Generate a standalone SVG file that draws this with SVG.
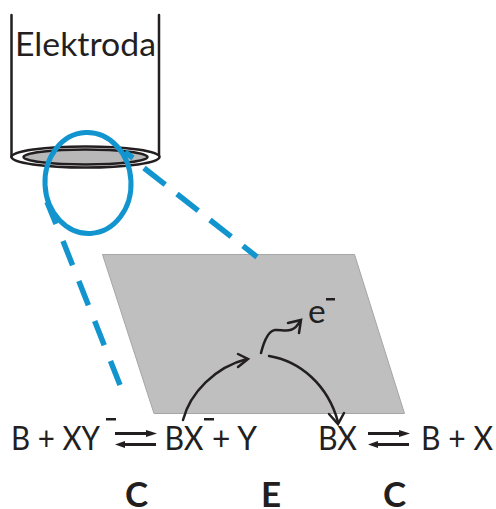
<svg xmlns="http://www.w3.org/2000/svg" width="496" height="509" viewBox="0 0 496 509">
<style>
text{font-family:Lato,"Open Sans",sans-serif;fill:#231f20}
.f{font-size:33.500px}
.b{font-size:35px;font-weight:700}
.k{fill:none;stroke:#231f20;stroke-width:2.500;stroke-linecap:round}
.h{fill:#231f20}
.m{fill:#231f20}
.d{fill:none;stroke:#1295cf;stroke-width:5.500}
</style>
<defs>
<path id="eq" d="M0 0H31V-2L42 1.500L31 5V3H0ZM41 11V14H10V16L0 12.500L10 9V11Z"/>
</defs>
<rect width="496" height="509" fill="#fff"/>
<g id="plane"><path d="M102.500 254.500H354.500L404.500 413.500H154Z" fill="#bfbfbf" stroke="#a6a6a6" stroke-width="1"/></g>
<g id="elektroda">
<path d="M11.500 15V157M159 15V157" class="k"/>
<ellipse cx="85.500" cy="157" rx="74" ry="10.500" fill="#fff" stroke="#231f20" stroke-width="2.500"/>
<ellipse cx="85.500" cy="157" rx="62" ry="7.500" fill="#b8b8b8" stroke="#231f20" stroke-width="2.500"/>
<text x="15" y="56" textLength="141" lengthAdjust="spacingAndGlyphs" style="font-size:33.500px">Elektroda</text>
</g>
<g id="lens">
<ellipse cx="88" cy="183" rx="43" ry="50.500" fill="none" stroke="#1295cf" stroke-width="5" transform="rotate(-3 88 183)"/>
</g>
<g id="connectors">
<path d="M125 152L133 158" class="d"/>
<path d="M144 168L257 257" class="d" stroke-dasharray="27 15"/>
<path d="M47 202L56 224" class="d"/>
<path d="M63 241L120 385" class="d" stroke-dasharray="26 17"/>
<path d="M183 420C190 393 215 367 247 359" class="k"/>
<path d="M238 354L248 359L238 367" class="k"/>
<path d="M261 353C264 341 268 331 275 330C283 329 293 335 300 321" class="k"/>
<path d="M288 323L301 320L299 333" class="k"/>
<path d="M269 356C300 361 328 385 338 422" class="k"/>
<path d="M329 414L338 424L344 413" class="k"/>
<use href="#eq" x="115" y="432" class="h"/>
<use href="#eq" x="368" y="432" class="h"/>
</g>
<g id="labels">
<text x="11" y="450" class="f" textLength="89" lengthAdjust="spacingAndGlyphs">B + XY</text>
<rect x="106" y="418" width="10" height="2.500" class="m"/>
<text x="164.500" y="450" class="f" textLength="39" lengthAdjust="spacingAndGlyphs">BX</text>
<rect x="204" y="418" width="10" height="2.500" class="m"/>
<text x="212" y="450" class="f" textLength="45" lengthAdjust="spacingAndGlyphs">+ Y</text>
<text x="318" y="450" class="f" textLength="39" lengthAdjust="spacingAndGlyphs">BX</text>
<text x="421" y="450" class="f" textLength="72" lengthAdjust="spacingAndGlyphs">B + X</text>
<text x="308" y="323" class="f">e</text>
<rect x="326" y="298" width="9" height="2.500" class="m"/>
<text x="125" y="507" class="b">C</text>
<text x="261" y="507" class="b">E</text>
<text x="383" y="507" class="b">C</text>
</g>
</svg>
